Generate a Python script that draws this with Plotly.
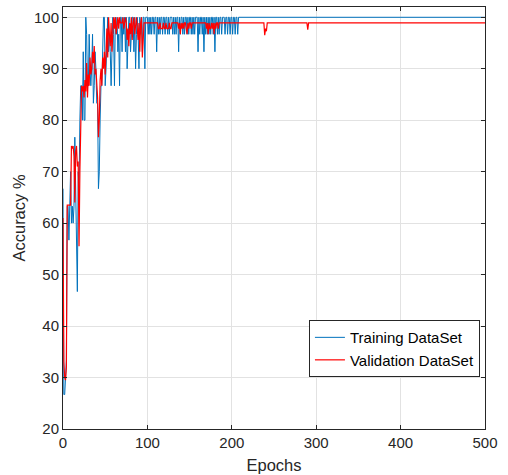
import plotly.graph_objects as go

# ---------------- data ----------------
train_epochs = list(range(0, 209)) + [500]
train_acc = [
    66.7, 26.7, 26.7, 30.0, 33.3, 63.3, 63.3, 56.7, 63.3, 70.0,
    60.0, 63.3, 60.0, 63.3, 76.7, 66.7, 63.3, 46.7, 70.0, 66.7,
    80.0, 86.7, 86.7, 80.0, 93.3, 80.0, 80.0, 100.0, 96.7, 86.7,
    86.7, 96.7, 90.0, 86.7, 90.0, 96.7, 83.3, 86.7, 93.3, 90.0,
    83.3, 83.3, 66.7, 70.0, 80.0, 86.7, 86.7, 93.3, 100.0, 100.0,
    86.7, 90.0, 96.7, 100.0, 93.3, 96.7, 93.3, 86.7, 93.3, 100.0,
    96.7, 86.7, 100.0, 96.7, 100.0, 93.3, 96.7, 86.7, 100.0, 100.0,
    93.3, 100.0, 96.7, 100.0, 93.3, 100.0, 90.0, 96.7, 100.0, 100.0,
    93.3, 96.7, 100.0, 100.0, 93.3, 100.0, 90.0, 96.7, 100.0, 96.7,
    90.0, 100.0, 96.7, 100.0, 93.3, 100.0, 100.0, 90.0, 100.0, 100.0,
    100.0, 96.7, 100.0, 96.7, 100.0, 96.7, 100.0, 100.0, 96.7, 100.0,
    100.0, 93.3, 100.0, 96.7, 100.0, 96.7, 100.0, 100.0, 96.7, 100.0,
    100.0, 96.7, 100.0, 100.0, 96.7, 100.0, 96.7, 100.0, 100.0, 100.0,
    96.7, 100.0, 96.7, 100.0, 96.7, 100.0, 100.0, 93.3, 100.0, 96.7,
    100.0, 100.0, 96.7, 100.0, 96.7, 100.0, 100.0, 96.7, 100.0, 96.7,
    100.0, 100.0, 96.7, 100.0, 96.7, 100.0, 96.7, 100.0, 100.0, 100.0,
    93.3, 100.0, 96.7, 100.0, 100.0, 96.7, 100.0, 93.3, 100.0, 96.7,
    100.0, 96.7, 100.0, 96.7, 100.0, 96.7, 100.0, 100.0, 96.7, 100.0,
    93.3, 100.0, 100.0, 96.7, 100.0, 96.7, 100.0, 100.0, 96.7, 100.0,
    100.0, 100.0, 96.7, 100.0, 100.0, 96.7, 100.0, 100.0, 96.7, 100.0,
    100.0, 96.7, 100.0, 100.0, 96.7, 100.0, 100.0, 96.7, 100.0,
    100.0,
]

val_epochs = list(range(0, 211)) + [238, 239, 240, 241, 242, 289, 290, 291, 500]
val_acc = [
    61.0, 33.0, 30.0, 29.5, 32.0, 63.5, 63.5, 63.5, 63.5, 63.5,
    75.0, 74.5, 75.0, 73.0, 64.0, 74.0, 75.0, 71.0, 72.0, 55.5,
    70.0, 78.0, 86.7, 85.6, 86.7, 84.4, 87.8, 85.6, 91.1, 84.4,
    88.9, 86.7, 92.2, 88.9, 90.0, 93.3, 91.1, 94.4, 88.9, 90.0,
    87.8, 84.4, 76.7, 80.0, 87.8, 90.0, 86.7, 92.2, 90.0, 93.3,
    88.9, 95.6, 97.8, 92.2, 100.0, 96.7, 94.4, 98.9, 93.3, 96.7,
    100.0, 97.8, 100.0, 96.7, 98.9, 100.0, 97.8, 100.0, 98.9, 98.9,
    98.9, 100.0, 97.8, 98.9, 100.0, 98.9, 95.6, 97.8, 94.4, 98.9,
    96.7, 100.0, 95.6, 98.9, 100.0, 96.7, 98.9, 100.0, 97.8, 95.6,
    98.9, 93.3, 98.9, 100.0, 92.2, 97.8, 98.9, 98.9, 98.9, 98.9,
    98.9, 98.9, 98.9, 98.9, 98.9, 98.9, 98.9, 98.9, 98.9, 98.9,
    98.9, 98.9, 98.9, 97.8, 97.8, 98.9, 97.8, 97.8, 97.8, 98.9,
    97.8, 97.8, 98.9, 97.8, 97.8, 97.8, 98.9, 97.8, 97.8, 98.9,
    98.9, 98.9, 98.9, 98.9, 98.9, 98.9, 98.9, 97.8, 98.9, 96.7,
    98.9, 97.8, 98.9, 97.8, 98.9, 98.9, 97.8, 96.7, 98.9, 97.8,
    98.9, 98.9, 97.8, 98.9, 98.9, 98.9, 98.9, 98.9, 98.9, 98.9,
    98.9, 98.9, 98.9, 98.9, 98.9, 98.9, 98.9, 98.9, 98.9, 98.9,
    97.8, 98.9, 96.7, 98.9, 97.8, 97.8, 98.9, 97.8, 98.9, 96.7,
    98.9, 97.8, 98.9, 98.9, 97.8, 98.9, 98.9, 98.9, 98.9, 98.9,
    98.9, 98.9, 98.9, 98.9, 98.9, 98.9, 98.9, 98.9, 98.9, 98.9,
    98.9, 98.9, 98.9, 98.9, 98.9, 98.9, 98.9, 98.9, 98.9, 98.9,
    98.9,
    98.9, 96.5, 97.8, 97.3, 98.9, 98.9, 97.6, 98.9, 98.9,
]

x_ticks = [0, 100, 200, 300, 400, 500]
y_ticks = [20, 30, 40, 50, 60, 70, 80, 90, 100]
series_names = ["Training DataSet", "Validation DataSet"]
x_label = "Epochs"
y_label = "Accuracy %"

# ---------------- figure ----------------
AX = "#262626"
FONT = "Liberation Sans, Arial, Helvetica, sans-serif"

fig = go.Figure()
fig.add_trace(go.Scatter(x=train_epochs, y=train_acc, mode="lines",
                         name=series_names[0],
                         line=dict(color="#0072BD", width=1)))
fig.add_trace(go.Scatter(x=val_epochs, y=val_acc, mode="lines",
                         name=series_names[1],
                         line=dict(color="#FF0000", width=1.2)))

axis_common = dict(
    showline=True, linecolor=AX, linewidth=1, mirror="ticks",
    ticks="inside", ticklen=4, tickcolor=AX, tickwidth=1,
    showgrid=True, gridcolor="#e2e2e2", gridwidth=1,
    zeroline=False,
    tickfont=dict(family=FONT, size=15, color=AX),
)

fig.update_layout(
    width=508, height=475,
    margin=dict(l=63, r=23, t=7, b=46, autoexpand=False),
    paper_bgcolor="white", plot_bgcolor="white",
    font=dict(family=FONT, color=AX),
    xaxis=dict(range=[0, 500], tickvals=x_ticks, automargin=False,
               title=dict(text=x_label, font=dict(family=FONT, size=16.5, color=AX), standoff=9),
               **axis_common),
    yaxis=dict(range=[20, 102], tickvals=y_ticks, automargin=False,
               title=dict(text=y_label, font=dict(family=FONT, size=16.5, color=AX), standoff=4),
               **axis_common),
    legend=dict(x=0.988, y=0.123, xanchor="right", yanchor="bottom",
                bgcolor="white", bordercolor=AX, borderwidth=1,
                font=dict(family=FONT, size=15, color="black"),
                itemwidth=30, tracegroupgap=0),
    showlegend=True,
)

fig.write_html(
    "out.html",
    config={"displayModeBar": False},
    post_script="document.body.style.margin='0';document.body.style.overflow='hidden';",
)
